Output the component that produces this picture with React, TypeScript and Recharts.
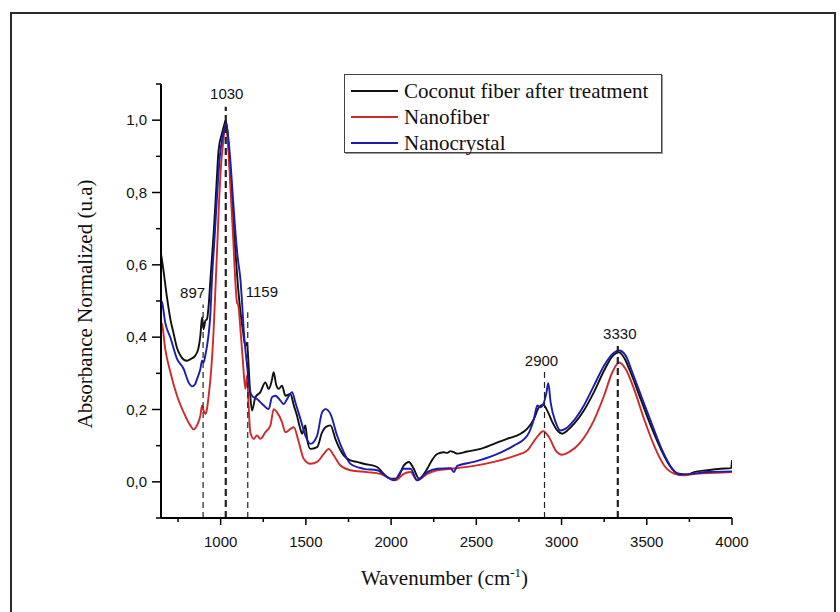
import React from 'react';
import { LineChart, Line, XAxis, YAxis, ReferenceLine } from 'recharts';

// wavenumber (cm-1), normalized absorbance
const coconutFiber: [number, number][] = [
  [650, 0.63], [660, 0.6], [685, 0.51], [705, 0.45], [724, 0.41], [744, 0.37], [763, 0.35], [783, 0.338],
  [803, 0.335], [822, 0.339], [851, 0.349], [870, 0.37], [881, 0.404], [891, 0.455], [900, 0.422], [910, 0.445],
  [920, 0.45], [930, 0.49], [940, 0.56], [959, 0.688], [975, 0.817], [988, 0.918], [1008, 0.964], [1020, 0.985],
  [1030, 1.0], [1040, 0.97], [1060, 0.82], [1080, 0.68], [1100, 0.55], [1116, 0.47], [1130, 0.42], [1145, 0.376],
  [1155, 0.385], [1164, 0.321], [1174, 0.238], [1184, 0.197], [1204, 0.234], [1233, 0.248], [1262, 0.275],
  [1282, 0.257], [1300, 0.28], [1311, 0.303], [1325, 0.27], [1341, 0.257], [1360, 0.266], [1380, 0.238],
  [1409, 0.243], [1430, 0.21], [1448, 0.183], [1465, 0.15], [1478, 0.133], [1497, 0.156], [1507, 0.119],
  [1527, 0.091], [1566, 0.096], [1595, 0.137], [1615, 0.151], [1644, 0.156], [1673, 0.119], [1700, 0.09],
  [1722, 0.073], [1761, 0.059], [1800, 0.055], [1840, 0.05], [1918, 0.041], [1957, 0.022], [1996, 0.009],
  [2035, 0.009], [2074, 0.045], [2104, 0.055], [2133, 0.036], [2163, 0.009], [2190, 0.02], [2212, 0.036],
  [2240, 0.06], [2270, 0.077], [2309, 0.082], [2330, 0.08], [2348, 0.085], [2368, 0.082], [2388, 0.078],
  [2447, 0.084], [2525, 0.091], [2603, 0.105], [2681, 0.119], [2760, 0.133], [2799, 0.147], [2838, 0.174],
  [2867, 0.206], [2893, 0.213], [2916, 0.197], [2946, 0.165], [2975, 0.142], [3004, 0.133], [3034, 0.142],
  [3073, 0.16], [3131, 0.197], [3190, 0.248], [3249, 0.307], [3298, 0.347], [3337, 0.358], [3366, 0.344],
  [3405, 0.303], [3464, 0.229], [3523, 0.156], [3582, 0.091], [3640, 0.041], [3680, 0.023], [3738, 0.02],
  [3777, 0.027], [3856, 0.032], [3934, 0.036], [3995, 0.038], [4000, 0.06],
];

const nanofiber: [number, number][] = [
  [650, 0.44], [656, 0.436], [675, 0.367], [705, 0.303], [744, 0.238], [783, 0.192], [822, 0.156], [842, 0.145],
  [861, 0.156], [881, 0.183], [891, 0.211], [900, 0.197], [910, 0.188], [920, 0.202], [930, 0.24], [940, 0.284],
  [959, 0.422], [969, 0.53], [979, 0.64], [990, 0.77], [1000, 0.86], [1015, 0.94], [1030, 0.99], [1045, 0.92],
  [1060, 0.79], [1075, 0.66], [1088, 0.54], [1096, 0.495], [1103, 0.49], [1116, 0.422], [1131, 0.33],
  [1145, 0.257], [1155, 0.294], [1164, 0.211], [1174, 0.137], [1194, 0.119], [1213, 0.128], [1233, 0.119],
  [1262, 0.137], [1292, 0.156], [1311, 0.201], [1331, 0.192], [1360, 0.165], [1380, 0.137], [1409, 0.146],
  [1429, 0.151], [1458, 0.11], [1487, 0.064], [1527, 0.05], [1566, 0.055], [1605, 0.077], [1634, 0.091],
  [1664, 0.073], [1703, 0.045], [1761, 0.032], [1859, 0.027], [1937, 0.022], [1996, 0.009], [2026, 0.004],
  [2074, 0.022], [2114, 0.027], [2153, 0.004], [2212, 0.022], [2270, 0.032], [2348, 0.036], [2388, 0.038],
  [2486, 0.044], [2603, 0.055], [2720, 0.071], [2799, 0.087], [2848, 0.119], [2893, 0.14], [2926, 0.124],
  [2965, 0.087], [3004, 0.075], [3043, 0.082], [3112, 0.11], [3190, 0.17], [3249, 0.238], [3298, 0.303],
  [3337, 0.33], [3376, 0.312], [3425, 0.257], [3484, 0.174], [3543, 0.1], [3601, 0.046], [3660, 0.023],
  [3719, 0.018], [3797, 0.023], [3900, 0.025], [4000, 0.027],
];

const nanocrystal: [number, number][] = [
  [650, 0.5], [656, 0.496], [675, 0.44], [705, 0.399], [744, 0.34], [783, 0.312], [812, 0.275], [832, 0.264],
  [850, 0.27], [861, 0.284], [881, 0.312], [891, 0.335], [900, 0.33], [910, 0.35], [920, 0.376], [940, 0.468],
  [949, 0.56], [965, 0.68], [980, 0.8], [995, 0.9], [1010, 0.95], [1025, 0.98], [1032, 0.99], [1040, 0.97],
  [1055, 0.9], [1070, 0.8], [1085, 0.7], [1100, 0.62], [1116, 0.56], [1125, 0.5], [1135, 0.422], [1155, 0.321],
  [1170, 0.257], [1184, 0.238], [1213, 0.229], [1253, 0.211], [1282, 0.201], [1301, 0.234], [1321, 0.238],
  [1350, 0.225], [1370, 0.215], [1390, 0.229], [1419, 0.248], [1438, 0.22], [1468, 0.174], [1497, 0.128],
  [1527, 0.105], [1566, 0.128], [1595, 0.192], [1615, 0.201], [1644, 0.188], [1683, 0.128], [1722, 0.082],
  [1761, 0.05], [1840, 0.036], [1918, 0.032], [1977, 0.013], [2016, 0.004], [2074, 0.036], [2114, 0.036],
  [2153, 0.004], [2212, 0.027], [2270, 0.036], [2349, 0.038], [2368, 0.027], [2388, 0.044], [2486, 0.055],
  [2603, 0.073], [2720, 0.1], [2799, 0.128], [2838, 0.174], [2858, 0.211], [2877, 0.206], [2897, 0.22],
  [2912, 0.248], [2922, 0.273], [2936, 0.22], [2965, 0.165], [2995, 0.142], [3024, 0.147], [3073, 0.17],
  [3131, 0.211], [3190, 0.266], [3249, 0.321], [3298, 0.353], [3337, 0.363], [3376, 0.349], [3415, 0.303],
  [3474, 0.229], [3533, 0.156], [3591, 0.087], [3650, 0.036], [3699, 0.02], [3777, 0.023], [3856, 0.027],
  [4000, 0.029],
];

const xTicks = [750, 1000, 1250, 1500, 1750, 2000, 2250, 2500, 2750, 3000, 3250, 3500, 3750, 4000];
const yTicks = [-0.1, 0, 0.1, 0.2, 0.3, 0.4, 0.5, 0.6, 0.7, 0.8, 0.9, 1.0, 1.1];

// marked bands: wavenumber and the absorbance where the dashed guide stops
const peakWavenumbers = [897, 1030, 1159, 2900, 3330];
const peakTops = [0.49, 1.037, 0.469, 0.307, 0.381];

const SERIES = [
  { name: 'Coconut fiber after treatment', data: coconutFiber, color: '#111111' },
  { name: 'Nanofiber', data: nanofiber, color: '#cf2a2a' },
  { name: 'Nanocrystal', data: nanocrystal, color: '#1c1cb0' },
];

const PEAK_STYLE: Record<number, { anchor: 'start' | 'middle' | 'end'; dx: number; dy: number; thick: boolean }> = {
  897: { anchor: 'end', dx: 2, dy: -7, thick: false },
  1030: { anchor: 'middle', dx: 1, dy: -8, thick: true },
  1159: { anchor: 'start', dx: -2, dy: -15, thick: false },
  2900: { anchor: 'middle', dx: -3, dy: -5, thick: false },
  3330: { anchor: 'middle', dx: 2, dy: -5, thick: true },
};

const SANS = '"Liberation Sans", Arial, sans-serif';
const SERIF = '"Liberation Serif", "Times New Roman", serif';

const XTick = (props: any) => {
  const { x, y, payload } = props;
  const major = payload.value % 500 === 0;
  return (
    <g>
      <line x1={x} y1={y} x2={x} y2={y + (major ? 7 : 4)} stroke="#000" strokeWidth={1.5} />
      {major && (
        <text x={x} y={y + 29} textAnchor="middle" fontSize={15} fontFamily={SANS} fill="#111">
          {payload.value}
        </text>
      )}
    </g>
  );
};

const YTick = (props: any) => {
  const { x, y, payload } = props;
  const k = Math.round(payload.value * 10);
  const major = k >= 0 && k <= 10 && k % 2 === 0;
  return (
    <g>
      <line x1={x - (major ? 9 : 5)} y1={y} x2={x} y2={y} stroke="#000" strokeWidth={1.5} />
      {major && (
        <text x={x - 14} y={y + 5} textAnchor="end" fontSize={15} fontFamily={SANS} fill="#111">
          {(k / 10).toFixed(1).replace('.', ',')}
        </text>
      )}
    </g>
  );
};

const PeakLabel = (props: any) => {
  const vb = props.viewBox || { x: 0, y: 0 };
  const s = PEAK_STYLE[props.wn];
  return (
    <text x={vb.x + s.dx} y={vb.y + s.dy} textAnchor={s.anchor} fontSize={15} fontFamily={SANS} fill="#111">
      {props.wn}
    </text>
  );
};

export default function App() {
  return (
    <div style={{ position: 'absolute', left: 0, top: 0, width: 840, height: 612, background: '#fff', overflow: 'hidden' }}>
      <div
        style={{
          position: 'absolute', left: 10, top: 12, width: 826, height: 640,
          border: '2px solid #2a2a2a', boxSizing: 'border-box',
        }}
      />
      <div style={{ position: 'absolute', left: 0, top: 0 }}>
        <LineChart width={840} height={612} margin={{ top: 84, right: 108, bottom: 0, left: 0 }}>
          <XAxis
            type="number"
            dataKey="x"
            domain={[650, 4000]}
            ticks={xTicks}
            interval={0}
            allowDataOverflow
            height={94}
            tickSize={0}
            tickMargin={0}
            tickLine={false}
            axisLine={{ stroke: '#000', strokeWidth: 2 }}
            tick={<XTick />}
            label={(p: any) => {
              const vb = p.viewBox;
              return (
                <text x={vb.x + vb.width / 2 - 2} y={vb.y + 67} textAnchor="middle" fontSize={21} fontFamily={SERIF} fill="#111">
                  Wavenumber (cm<tspan dy={-8} fontSize={13}>-1</tspan><tspan dy={8}>)</tspan>
                </text>
              );
            }}
          />
          <YAxis
            type="number"
            domain={[-0.1, 1.1]}
            ticks={yTicks}
            interval={0}
            allowDataOverflow
            width={161}
            tickSize={0}
            tickMargin={0}
            tickLine={false}
            axisLine={{ stroke: '#000', strokeWidth: 2 }}
            tick={<YTick />}
            label={(p: any) => {
              const vb = p.viewBox;
              const cx = vb.x + 92;
              const cy = vb.y + vb.height / 2 + 3;
              return (
                <text x={cx} y={cy} transform={`rotate(-90, ${cx}, ${cy})`} textAnchor="middle" fontSize={21} fontFamily={SERIF} fill="#111">
                  Absorbance Normalized (u.a)
                </text>
              );
            }}
          />
          {SERIES.map(s => (
            <Line
              key={s.name}
              name={s.name}
              data={s.data.map(([x, y]) => ({ x, y }))}
              dataKey="y"
              type="monotone"
              stroke={s.color}
              strokeWidth={1.9}
              dot={false}
              activeDot={false}
              isAnimationActive={false}
            />
          ))}
          {peakWavenumbers.map((wn, i) => (
            <ReferenceLine
              key={wn}
              segment={[{ x: wn, y: -0.1 }, { x: wn, y: peakTops[i] }]}
              stroke="#222"
              strokeWidth={PEAK_STYLE[wn].thick ? 2.2 : 1.2}
              strokeDasharray={PEAK_STYLE[wn].thick ? '7 4' : '6 4'}
              label={<PeakLabel wn={wn} />}
            />
          ))}
        </LineChart>
      </div>
      <div
        style={{
          position: 'absolute', left: 344, top: 74, width: 318, height: 79,
          border: '1.5px solid #444', boxShadow: '1px 1px 0 #999', background: '#fff',
          boxSizing: 'border-box', paddingTop: 3, fontFamily: SERIF, fontSize: 21, color: '#111',
        }}
      >
        {SERIES.map(s => (
          <div key={s.name} style={{ display: 'flex', alignItems: 'center', height: 26, lineHeight: '26px' }}>
            <span style={{ display: 'inline-block', width: 47, height: 2, background: s.color, marginLeft: 6, marginRight: 6 }} />
            <span style={{ whiteSpace: 'nowrap' }}>{s.name}</span>
          </div>
        ))}
      </div>
    </div>
  );
}
